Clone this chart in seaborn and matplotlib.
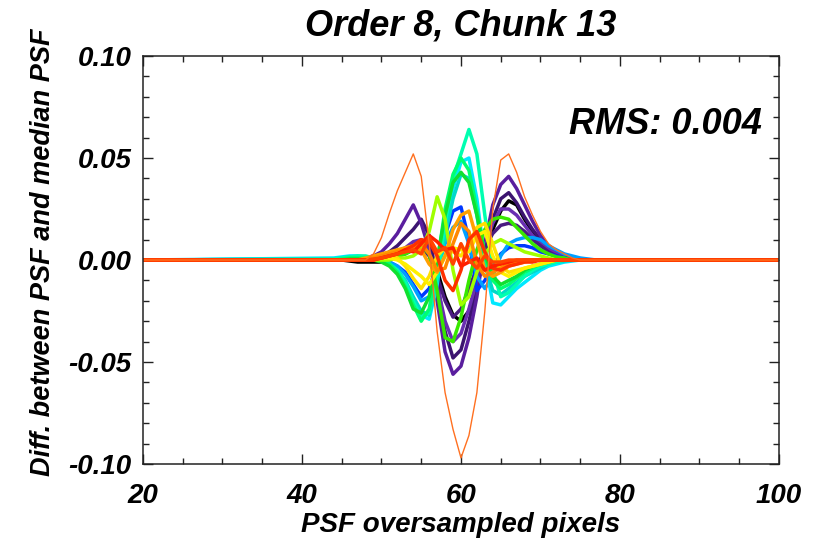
import numpy as np
import pandas as pd
import matplotlib
matplotlib.use("Agg")
import matplotlib.pyplot as plt
import seaborn as sns
from matplotlib.ticker import MultipleLocator

# ---- data (values in units of 1e-3), x = 44..78; flat zero outside ----
x_core = [44, 45, 46, 47, 48, 49, 50, 51, 52, 53, 54, 55, 56, 57, 58, 59, 60, 61,
          62, 63, 64, 65, 66, 67, 68, 69, 70, 71, 72, 73, 74, 75, 76, 77, 78]
x_edges = [20, 100]

black1 = [0, 0, -0.5, -1, -1, -1, -1, 0, 2, 5, 7, 8, 5, -5, -18, -27, -30, -25,
          -12, 2, 15, 24, 29, 27, 20, 14, 9, 5, 3, 1.5, 1, 0.5, 0, 0, 0]
dpurple = [0, 0, 0, 0, 0.5, 1, 2, 4, 7, 11, 15, 20, 12, -10, -35, -48, -44, -30,
           -14, 5, 20, 30, 33, 28, 21, 15, 10, 6, 3, 2, 1, 0, 0, 0, 0]
purple1 = [0, 0, 0, 0.5, 1, 2, 4, 8, 13, 20, 27, 18, 5, -20, -45, -56, -52, -38,
           -18, 8, 27, 37, 41, 35, 27, 19, 12, 7, 4, 2, 1, 0.5, 0, 0, 0]
purple2 = [0, 0, 0, 0, 0, 0.5, 1, 2, 4, 6, 9, 10, 4, -12, -30, -40, -36, -24,
           -10, 6, 18, 25, 25, 22, 17, 12, 8, 5, 3, 1.5, 1, 0.5, 0, 0, 0]
purple3 = [0, 0, 0, 0, 0, 0, 0.5, 1, 2, 3, 5, 6, 2, -8, -20, -28, -24, -14,
           -4, 6, 13, 17, 18, 17, 14, 10, 7, 4, 2, 1, 0.5, 0, 0, 0, 0]
blue1 = [0, 0.5, 1, 1, 1, 0.5, 0, -1, -3, -6, -12, -18, -14, -2, 12, 24, 26, 10,
         -15, -10, -3, 3, 6, 7, 7, 6, 4, 3, 2, 1, 0.5, 0, 0, 0, 0]
lblue = [0.5, 1, 1, 1, 1, 0.5, 0, -1, -3, -7, -13, -20, -18, -5, 8, 16, 19, 8,
         -8, -14, -8, 2, 8, 10, 11, 11, 10, 7, 5, 3, 2, 1, 0.5, 0, 0]
cyan1 = [1, 1.5, 2, 2, 1.5, 1, 0, -2, -5, -11, -20, -27, -29, -12, 15, 35, 48, 50,
         30, 0, -21, -22, -18, -14, -11, -8, -5, -3, -2, -1, -0.5, 0, 0, 0, 0]
teal1 = [0.5, 1, 1.5, 1.5, 1, 0.5, 0, -2, -5, -10, -18, -25, -27, -10, 12, 30, 42, 40,
         22, -2, -15, -17, -14, -11, -8, -6, -4, -2, -1, -0.5, 0, 0, 0, 0, 0]
aqua1 = [0.5, 1, 1.5, 2, 2, 1, 0, -2, -5, -11, -20, -28, -26, -8, 18, 40, 52, 64,
         52, 22, -5, -18, -16, -12, -8, -5, -3, -2, -1, 0, 0, 0, 0, 0, 0]
sgreen = [0, 0.5, 1, 1, 1, 0.5, 0, -2, -6, -13, -22, -30, -24, -2, 25, 42, 50, 44,
          25, 2, -10, -14, -12, -9, -6, -4, -2, -1, 0, 0, 0, 0, 0, 0, 0]
green1 = [0, 0, 0.5, 0.5, 0.5, 0, -1, -3, -7, -14, -24, -26, -18, 0, 22, 38, 43, 38,
          22, 3, -8, -12, -10, -8, -5, -3, -2, -1, 0, 0, 0, 0, 0, 0, 0]
green2 = [0, 0, 0, 0, 0, 0, 0, 1, 2, 3, 5, 7, 3, -15, -38, -40, -28, -10,
          5, 15, 20, 21, 20, 16, 12, 8, 5, 3, 1.5, 1, 0, 0, 0, 0, 0]
lime1 = [0, 0, 0, 0, 0, 0, 0, 0, 1, 1, 2, 5, 14, 31, 20, -5, -22, -18,
         -6, 3, 8, 10, 8, 6, 4, 3, 2, 1, 0, 0, 0, 0, 0, 0, 0]
yellow1 = [0, 0, 0, 0, 0, 1, 2, 2, 1, -3, -9, -14, -8, 2, 6, 4, 2, 8,
           16, 18, 8, -3, -6, -5, -4, -3, -2, -1, 0, 0, 0, 0, 0, 0, 0]
yellow2 = [0, 0, 0, 0, 0, 0, 1, 1, 0, -2, -5, -8, -12, -6, 2, 6, 5, 4,
           12, 14, 2, -6, -8, -6, -4, -3, -2, -1, 0, 0, 0, 0, 0, 0, 0]
orange1 = [0, 0, 0, 0, 1, 2, 3, 4, 5, 6, 7, 5, -2, -6, 2, 15, 22, 24,
           10, -5, -8, -6, -3, -2, -1, 0, 0, 0, 0, 0, 0, 0, 0, 0, 0]
orange2 = [0, 0, 0, 0, 0, 1, 2, 3, 4, 5, 6, 8, 3, -5, -4, 8, 18, 14,
           -2, -8, -6, -4, -2, -1, 0, 0, 0, 0, 0, 0, 0, 0, 0, 0, 0]
red1 = [0, 0, 0, 0, 0, 0, 1, 2, 3, 5, 7, 10, 9, 2, -10, -15, -5, 10,
        14, 4, -4, -5, -3, -2, -1, -1, 0, 0, 0, 0, 0, 0, 0, 0, 0]
red2 = [0, 0, 0, 0, 0, 0, 1, 2, 3, 5, 4, 8, 12, 9, 5, 6, -3, -1,
        1, -5, -3, -2, -1, 0, 0, 0, 0, 0, 0, 0, 0, 0, 0, 0, 0]
red3 = [0, 0, 0, 0, 0, 0.5, 1, 2, 3, 4, 5, 3, 11, 4, 6, -2, 8, 0,
        -4, 2, -1, -1, 0, 0, 0, 0, 0, 0, 0, 0, 0, 0, 0, 0, 0]
thin_orange = [0, 0, 0, 0, 0, 3, 11, 23, 34, 43, 52, 41, 8, -35, -65, -83, -97, -86,
               -65, -25, 25, 49, 52, 43, 31, 22, 14, 8, 5, 3, 1, 0, 0, 0, 0]

series_names = ["black1", "dpurple", "purple1", "purple2", "purple3", "blue1", "lblue",
                "cyan1", "teal1", "aqua1", "sgreen", "green1", "green2", "lime1",
                "yellow1", "yellow2", "orange1", "orange2", "red1", "red2", "red3"]
series_vals = [black1, dpurple, purple1, purple2, purple3, blue1, lblue,
               cyan1, teal1, aqua1, sgreen, green1, green2, lime1,
               yellow1, yellow2, orange1, orange2, red1, red2, red3]

title = "Order 8, Chunk 13"
xlabel = "PSF oversampled pixels"
ylabel = "Diff. between PSF and median PSF"
rms_text = "RMS: 0.004"

colors = ["#000000", "#3c1470", "#5a1e9e", "#6a2fb2", "#4a1a80", "#0038ff", "#00a0ff",
          "#00e8ff", "#00d8c8", "#00ffb0", "#00ff70", "#10e030", "#38e800", "#a0ff00",
          "#ffe000", "#fff000", "#ffa000", "#ff8800", "#ff3000", "#ff2000", "#ff4400"]

# ---- build long-form table ----
xs = [x_edges[0]] + x_core + [x_edges[1]]
rows = []
for name, vals in zip(series_names, series_vals):
    full = [0.0] + list(vals) + [0.0]
    for xv, yv in zip(xs, full):
        rows.append((name, xv, yv / 1000.0))
df = pd.DataFrame(rows, columns=["series", "x", "y"])
thin_df = pd.DataFrame({"x": xs, "y": [v / 1000.0 for v in [0.0] + thin_orange + [0.0]]})

sns.set_theme(style="white")
fam = ["DejaVu Sans Condensed", "Liberation Sans", "DejaVu Sans"]
plt.rcParams["font.family"] = fam
plt.rcParams["text.color"] = "black"
plt.rcParams["axes.labelcolor"] = "black"
plt.rcParams["xtick.color"] = "black"
plt.rcParams["ytick.color"] = "black"

fig = plt.figure(figsize=(8.37, 5.47), dpi=100)
ax = fig.add_axes([0.1708, 0.1517, 0.7599, 0.7459])

sns.lineplot(data=df, x="x", y="y", hue="series", hue_order=series_names,
             palette=colors, lw=2.5, estimator=None, sort=False, legend=False, ax=ax)
sns.lineplot(data=thin_df, x="x", y="y", color="#ff7020", lw=1.0, ax=ax,
             estimator=None, sort=False)

ax.set_xlim(20, 100)
ax.set_ylim(-0.10, 0.10)
ax.xaxis.set_major_locator(MultipleLocator(20))
ax.xaxis.set_minor_locator(MultipleLocator(5))
ax.yaxis.set_major_locator(MultipleLocator(0.05))
ax.yaxis.set_minor_locator(MultipleLocator(0.01))
ax.set_yticks([-0.10, -0.05, 0.0, 0.05, 0.10])
ax.set_yticklabels(["-0.10", "-0.05", "0.00", "0.05", "0.10"])
ax.tick_params(which="both", direction="in", top=True, right=True, bottom=True, left=True,
               color="#222222", width=1.0)
ax.tick_params(which="major", length=7)
ax.tick_params(which="minor", length=4)
ax.tick_params(axis="x", which="major", pad=14)
ax.tick_params(axis="y", which="major", pad=8)
for lab in ax.get_xticklabels() + ax.get_yticklabels():
    lab.set_fontsize(20)
    lab.set_fontweight("bold")
    lab.set_fontstyle("italic")
for sp in ax.spines.values():
    sp.set_color("#222222")
    sp.set_linewidth(1.1)

ax.set_xlabel(xlabel, fontsize=20, fontweight="bold", fontstyle="italic", labelpad=2)
ax.set_ylabel(ylabel, fontsize=19.5, fontweight="bold", fontstyle="italic", labelpad=6)
ax.yaxis.set_label_coords(-0.136, 0.52)
fig.text(0.551, 0.952, title, ha="center", va="center", fontsize=26,
         fontweight="bold", fontstyle="italic")
ax.text(0.973, 0.833, rms_text, transform=ax.transAxes, ha="right", va="center",
        fontsize=26, fontweight="bold", fontstyle="italic")

fig.savefig("out.png", dpi=100)
